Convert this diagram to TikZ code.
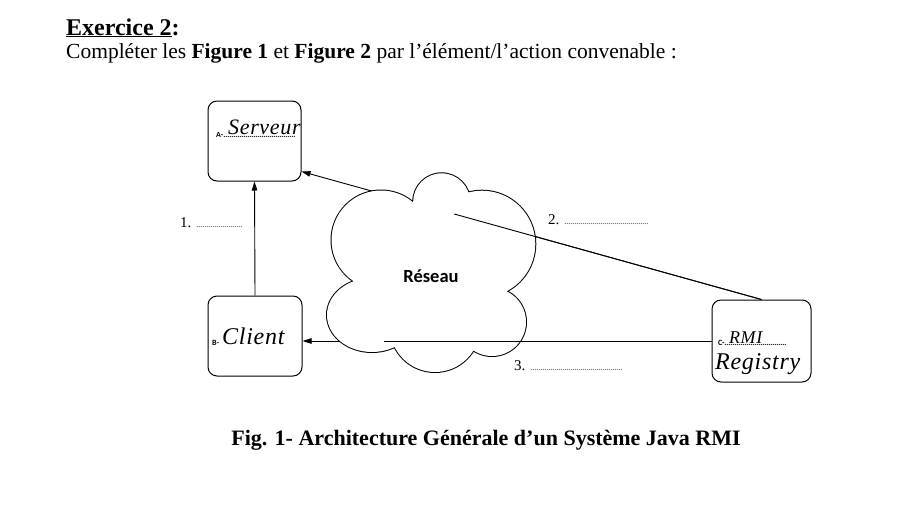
\documentclass[tikz,border=0pt]{standalone}
\usepackage{fontspec}
\setmainfont{Liberation Serif}
\newfontfamily\sansb{Carlito}
\newfontfamily\hand{Liberation Serif}[LetterSpace=3]
\usetikzlibrary{arrows.meta,calc}
\newcommand\mydots[1]{\hbox to #1{\fontsize{8}{8}\selectfont\leaders\hbox to 2pt{\hss.\hss}\hfill}}
\begin{document}
\begin{tikzpicture}[x=1pt,y=-1pt,
  box/.style={draw,rounded corners=9pt,line width=1pt,fill=white,inner sep=0pt},
  conn/.style={line width=0.9pt},
  arr/.style={conn,-{Triangle[length=9pt,width=5.5pt]}},
  txt/.style={inner sep=0pt,anchor=base west},
  lbl/.style={txt,font=\fontsize{15}{15}\selectfont},
  tag/.style={txt,font=\sansb\bfseries\fontsize{8}{8}\selectfont},
  hw/.style={txt,font=\hand\itshape\fontsize{22}{22}\selectfont},
  hwbig/.style={txt,font=\hand\itshape\fontsize{24}{24}\selectfont}]
\useasboundingbox (0,0) rectangle (902,520);
\fill[white] (0,0) rectangle (902,520);

% header
\node[txt,font=\fontsize{24}{24}\selectfont\bfseries] (t1) at (66,35) {\underline{Exercice 2}:};
\node[txt,font=\fontsize{21.5}{22}\selectfont] (t2) at (66,58) {Compléter les \textbf{Figure 1} et \textbf{Figure 2} par l’élément/l’action convenable :};

% boxes
\node[box,minimum width=93pt,minimum height=80pt] (srv) at (254.5,141) {};
\node[box,minimum width=94pt,minimum height=80pt] (cli) at (255,336) {};
\node[box,minimum width=99pt,minimum height=82pt] (reg) at (761.5,341) {};

% connectors
\coordinate (srvin) at ($(srv.south east)+(0,-10)$);
\coordinate (cliin) at (cli.east |- reg.west);
\draw[arr] (cli.north) -- (srv.south);
\draw[arr] (reg.north) -- (srvin);
\draw[arr] (reg.west) -- (cliin);

% cloud: union of lobes
\def\lobes{(381,240) circle[radius=49.5]
  (441.6,201.7) circle[radius=28.4]
  (482,244) circle[radius=53.3]
  (492,322) circle[radius=34]
  (435,327) circle[radius=45]
  (372,315) ellipse[x radius=45,y radius=37]}
\draw[line width=2pt] \lobes;
\fill[white] \lobes;
\fill[white] (414,207) -- (468,198) -- (500,292) -- (472,345) -- (398,345) -- (358,280) -- cycle;
\node[font=\sansb\bfseries\fontsize{18.5}{18.5}\selectfont,inner sep=0pt] (net) at (431,276) {Réseau};

% visible parts of the lines inside the cloud
\coordinate (c2) at ($(srvin)!0.332!(reg.north)$);
\coordinate (c3) at ($(cliin)!0.2!(reg.west)$);
\draw[conn] (c2) -- (reg.north);
\draw[conn] (c3) -- (reg.west);

% labels
\node[lbl] (l1) at (180,227) {1. \mydots{46pt}};
\node[lbl] (l2) at (548,224) {2. \mydots{84pt}};
\node[lbl] (l3) at (514,370) {3. \mydots{92pt}};

% box contents
\node[tag] (ta) at (216,137) {A-\mydots{72pt}};
\node[hw] (ha) at (228,134) {Serveur};
\node[tag] (tb) at (212,345) {B-};
\node[hwbig] (hb) at (222,344) {Client};
\node[tag] (tc) at (718,345) {C-\mydots{62pt}};
\node[hw,font=\hand\itshape\fontsize{18}{18}\selectfont] (hc) at (729,343) {RMI};
\node[hwbig] (hd) at (715,369) {Registry};

% caption
\node[inner sep=0pt,anchor=base,font=\fontsize{22}{22}\selectfont\bfseries] (cap) at (486,445) {Fig. 1- Architecture Générale d’un Système Java RMI};
\end{tikzpicture}
\end{document}
